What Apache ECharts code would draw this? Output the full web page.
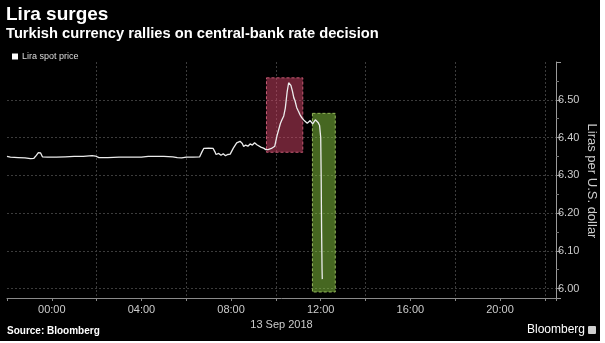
<!DOCTYPE html>
<html>
<head>
<meta charset="utf-8">
<script src="https://cdn.jsdelivr.net/npm/echarts@6/dist/echarts.min.js"></script>
<style>
  html, body { margin: 0; padding: 0; background: #ffffff; }
  #chart { width: 600px; height: 341px; background: #000000; }
</style>
</head>
<body>
<div id="chart"></div>
<script>
// Hours relative to midnight, 13 Sep 2018 (negative = evening of 12 Sep)
const hours = [
  -2.0, -1.95, -1.85, -1.5, -1.2, -0.95, -0.8, -0.7, -0.6, -0.5, -0.42, -0.2,
  0.2, 0.6, 1.0, 1.4, 1.8, 1.95, 2.1, 2.5, 3.0, 3.5, 4.0, 4.3, 4.6, 5.0, 5.4,
  5.6, 5.8, 6.0, 6.3, 6.6, 6.7, 6.78, 7.0, 7.2, 7.28, 7.33, 7.45, 7.55, 7.65,
  7.75, 7.85, 7.96, 8.1, 8.25, 8.4, 8.5, 8.56, 8.65, 8.75, 8.85, 8.95, 9.05,
  9.15, 9.22, 9.35, 9.45, 9.55, 9.65, 9.8, 9.95, 10.05, 10.12, 10.2, 10.27,
  10.35, 10.42, 10.5, 10.57, 10.62, 10.67, 10.74, 10.8, 10.85, 10.93, 11.0,
  11.08, 11.16, 11.25, 11.31, 11.4, 11.46, 11.53, 11.58, 11.64, 11.7, 11.76,
  11.82, 11.88, 11.95, 12.0, 12.02, 12.04, 12.06, 12.07
];
// Lira per U.S. dollar
const liraSpot = [
  6.350, 6.353, 6.348, 6.347, 6.346, 6.344, 6.345, 6.352, 6.360, 6.359, 6.349, 6.348,
  6.348, 6.349, 6.350, 6.350, 6.352, 6.351, 6.347, 6.347, 6.348, 6.348, 6.348, 6.350, 6.350, 6.350, 6.349,
  6.347, 6.346, 6.348, 6.348, 6.349, 6.362, 6.371, 6.372, 6.371, 6.362, 6.355, 6.358, 6.353, 6.357,
  6.352, 6.355, 6.356, 6.372, 6.386, 6.390, 6.384, 6.376, 6.380, 6.377, 6.383, 6.380, 6.386,
  6.381, 6.379, 6.374, 6.372, 6.368, 6.368, 6.371, 6.377, 6.405, 6.420, 6.437, 6.447,
  6.457, 6.478, 6.520, 6.545, 6.550, 6.538, 6.522, 6.505, 6.498, 6.479, 6.470,
  6.460, 6.452, 6.446, 6.443, 6.438, 6.440, 6.445, 6.440, 6.436, 6.440, 6.447,
  6.446, 6.440, 6.432, 6.400, 6.300, 6.150, 6.050, 6.025
];
// Highlighted windows: [startHour, endHour, low, high]
const surgeWindow = [9.58, 11.2, 6.361, 6.558];
const decisionWindow = [11.63, 12.65, 5.991, 6.464];

const seriesName = 'Lira spot price';
const titleText = 'Lira surges';
const subtitleText = 'Turkish currency rallies on central-bank rate decision';
const yAxisName = 'Liras per U.S. dollar';
const dateLabel = '13 Sep 2018';
const sourceText = 'Source: Bloomberg';
const brandText = 'Bloomberg';

const FONT = '"Liberation Sans", Arial, sans-serif';

function hourLabel(v) {
  if (v < 0 || v > 20 || Math.abs(v % 4) > 1e-6) return '';
  const h = Math.round(v);
  return (h < 10 ? '0' + h : '' + h) + ':00';
}

const chart = echarts.init(document.getElementById('chart'), null, { renderer: 'canvas' });

chart.setOption({
  backgroundColor: '#000000',
  animation: false,
  grid: { left: 7, right: 44, top: 62, bottom: 43, containLabel: false, outerBoundsMode: 'none' },
  legend: {
    data: [seriesName],
    left: 7, top: 47,
    icon: 'rect', itemWidth: 6, itemHeight: 6, itemGap: 4,
    textStyle: { color: '#dddddd', fontSize: 9, fontFamily: FONT, padding: [0, 0, 0, -1] },
    selectedMode: false
  },
  graphic: [
    { type: 'text', left: 6, top: 5,
      style: { text: titleText, fill: '#ffffff', font: 'bold 19px ' + FONT } },
    { type: 'text', left: 6, top: 26,
      style: { text: subtitleText, fill: '#ffffff', font: 'bold 14.7px ' + FONT } },
    { type: 'text', x: 592, y: 181, rotation: -Math.PI / 2,
      style: { text: yAxisName, fill: '#cccccc', font: '13px ' + FONT,
               align: 'center', verticalAlign: 'middle' } },
    { type: 'text', left: 7, top: 326,
      style: { text: sourceText, fill: '#ffffff', font: 'bold 10px ' + FONT } },
    { type: 'text', right: 15, top: 324,
      style: { text: brandText, fill: '#ffffff', font: '12px ' + FONT } },
    { type: 'rect', right: 4, top: 326,
      shape: { width: 8, height: 8, r: 1 }, style: { fill: '#cfcfcf' } }
  ],
  xAxis: {
    type: 'value',
    min: -2, max: 22.5, interval: 2,
    name: dateLabel, nameLocation: 'middle', nameGap: 19,
    nameTextStyle: { color: '#cccccc', fontSize: 11, fontFamily: FONT },
    axisLine: { show: true, onZero: false, lineStyle: { color: '#8a8a8a', width: 1 } },
    axisTick: { show: true, length: 3, lineStyle: { color: '#8a8a8a' } },
    axisLabel: { color: '#cccccc', fontSize: 11, fontFamily: FONT, margin: 6,
      formatter: hourLabel, showMinLabel: true, showMaxLabel: true },
    splitLine: { show: true, showMinLine: false, showMaxLine: false,
      lineStyle: { color: ['rgba(0,0,0,0)', '#3c3c3c'], type: [2, 2], width: 1 } }
  },
  yAxis: {
    type: 'value',
    position: 'right',
    min: 5.975, max: 6.6,
    axisLine: { show: true, onZero: false, lineStyle: { color: '#9a9a9a', width: 1 } },
    axisTick: { show: true, inside: false, length: 5, lineStyle: { color: '#9a9a9a' } },
    minorTick: { show: true, splitNumber: 2, length: 3, lineStyle: { color: '#777777' } },
    axisLabel: { color: '#cccccc', fontSize: 11, fontFamily: FONT, margin: 2,
      formatter: function (v) { return (v < 5.999 || v > 6.55) ? '' : v.toFixed(2); } },
    splitLine: { show: true, showMinLine: false, showMaxLine: false,
      lineStyle: { color: '#3c3c3c', type: [2, 2], width: 1 } }
  },
  series: [
    {
      name: seriesName,
      type: 'line',
      data: hours.map((h, i) => [h, liraSpot[i]]),
      showSymbol: false,
      symbol: 'none',
      itemStyle: { color: '#ffffff' },
      lineStyle: { color: '#ececec', width: 1.3 },
      z: 2
    },
    {
      name: 'highlights',
      type: 'line',
      data: [],
      z: 5,
      markArea: {
        silent: true,
        data: [
          [
            { xAxis: surgeWindow[0], yAxis: surgeWindow[3],
              itemStyle: { color: 'rgba(215,70,105,0.5)', borderColor: '#c65a74', borderWidth: 1, borderType: [3, 2] } },
            { xAxis: surgeWindow[1], yAxis: surgeWindow[2] }
          ],
          [
            { xAxis: decisionWindow[0], yAxis: decisionWindow[3],
              itemStyle: { color: 'rgba(140,205,65,0.5)', borderColor: '#94b85a', borderWidth: 1, borderType: [3, 2] } },
            { xAxis: decisionWindow[1], yAxis: decisionWindow[2] }
          ]
        ]
      }
    }
  ]
});
</script>
</body>
</html>
